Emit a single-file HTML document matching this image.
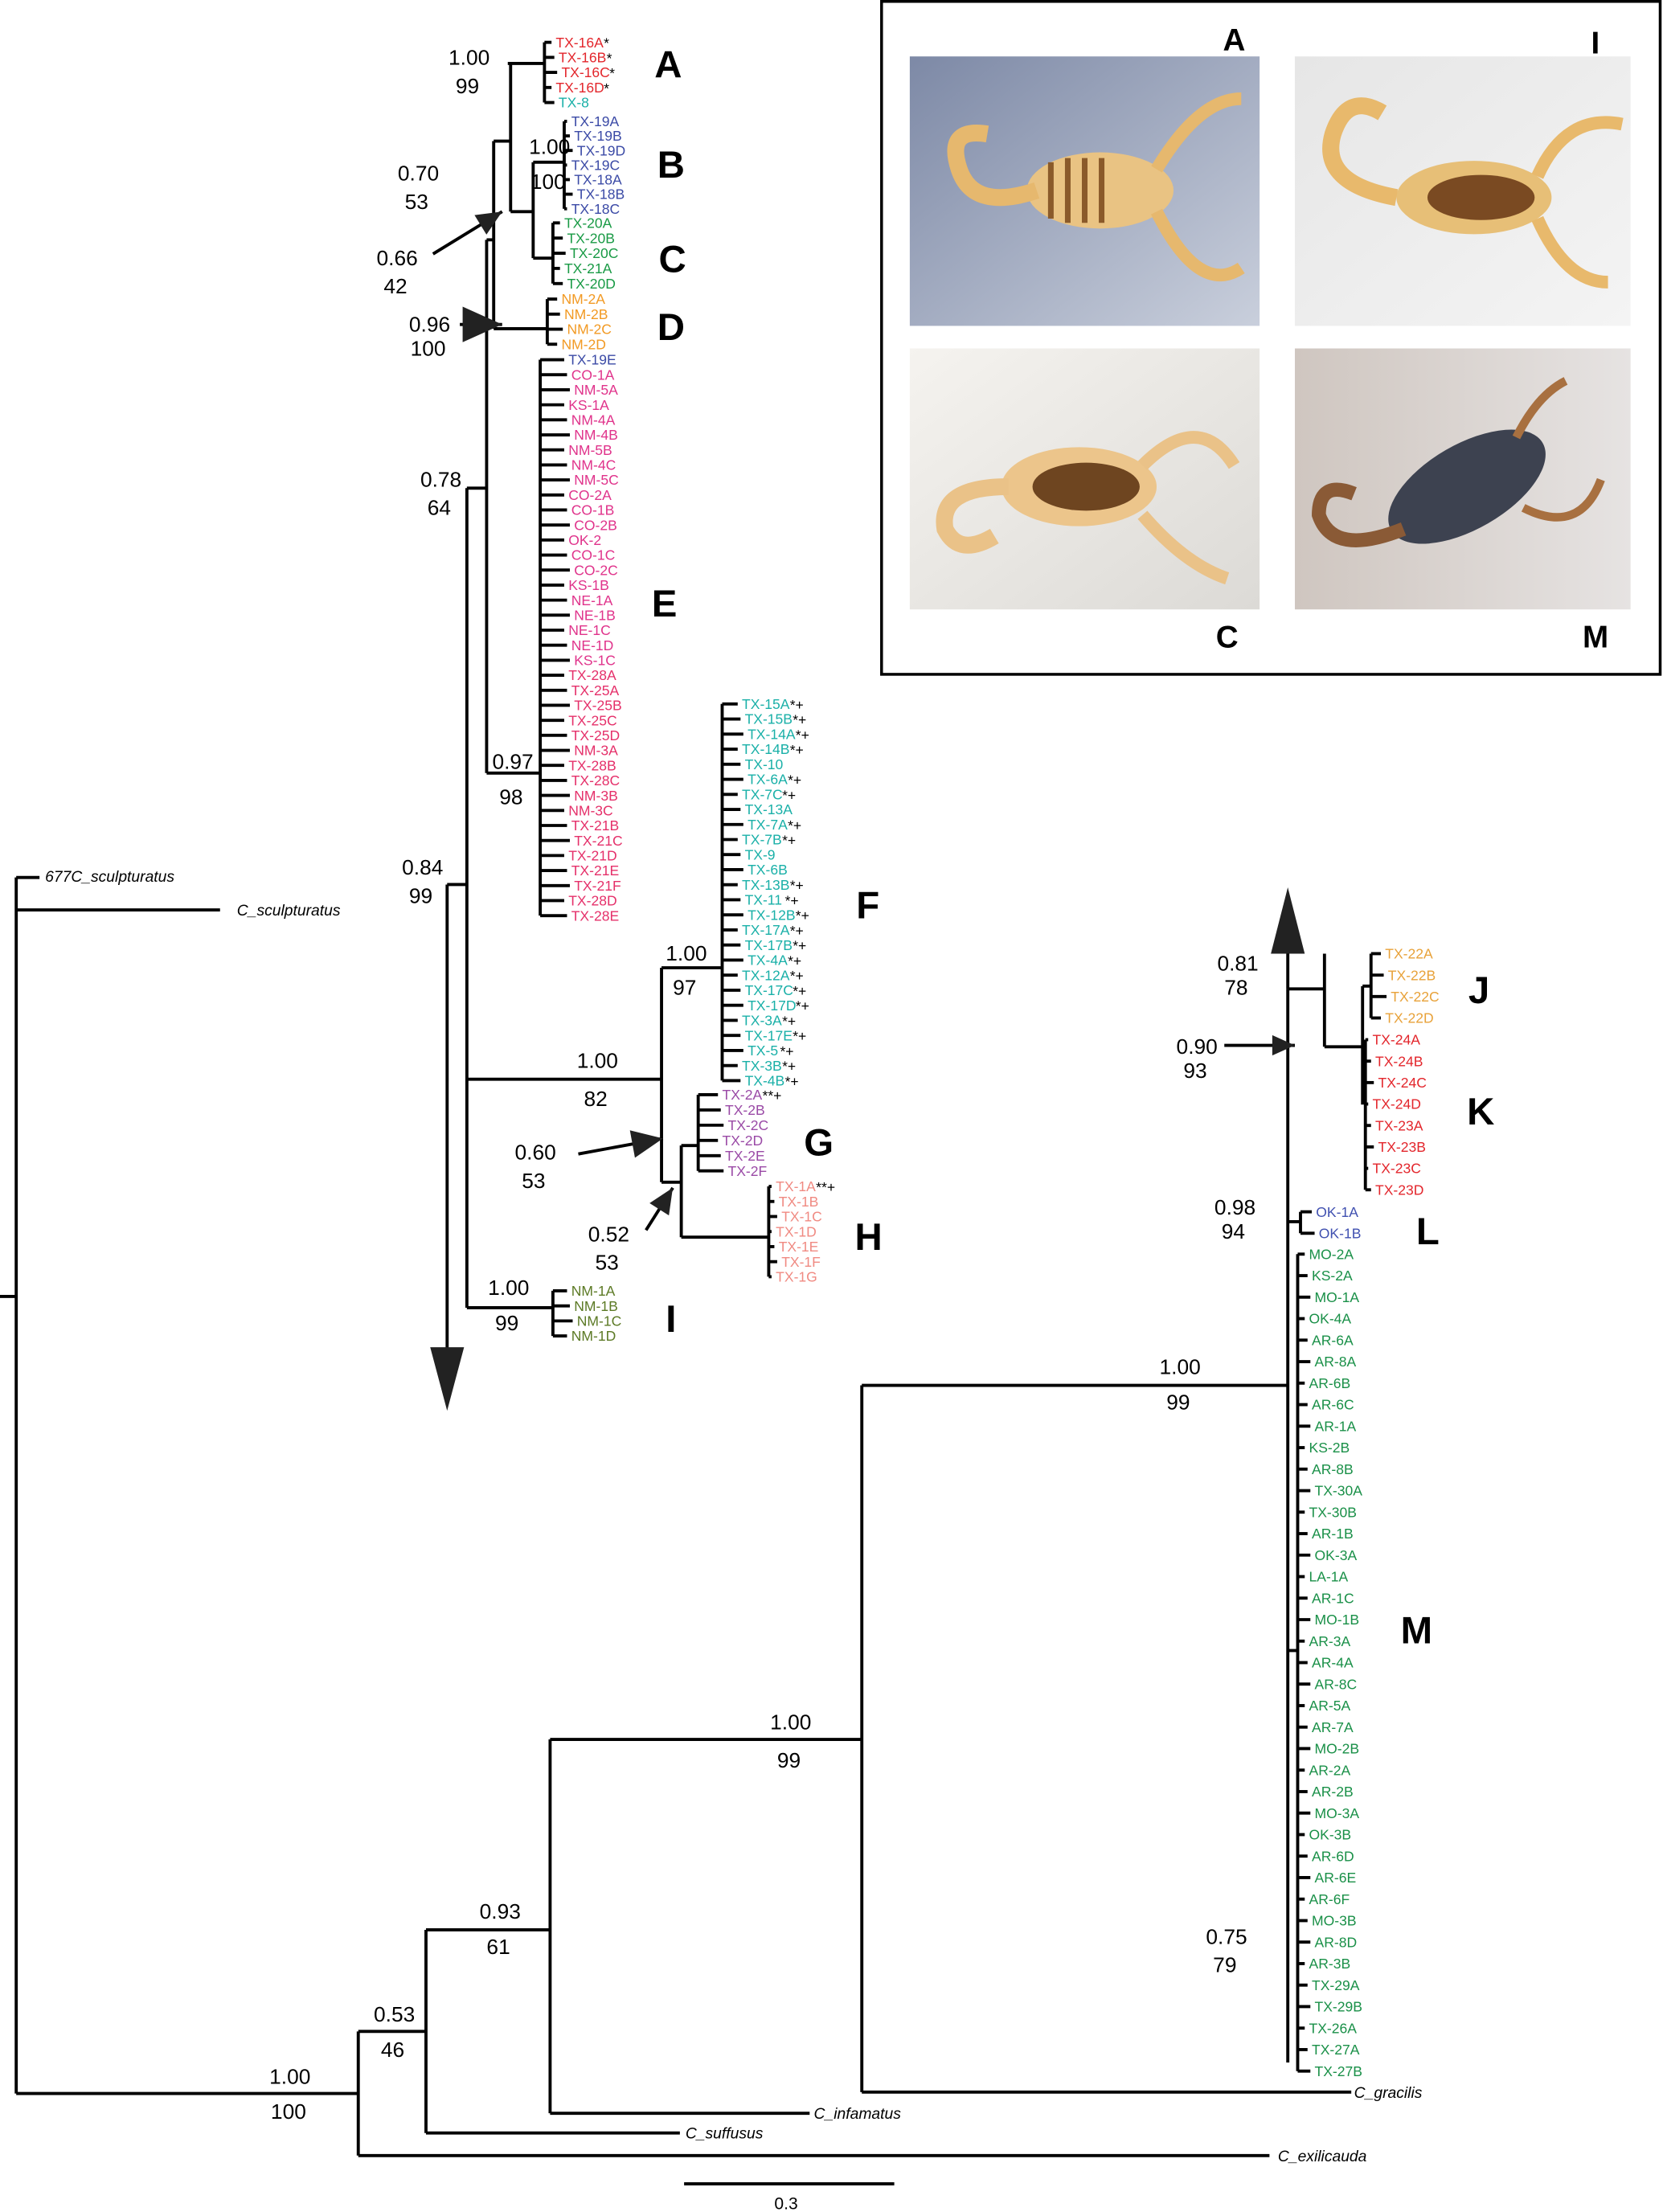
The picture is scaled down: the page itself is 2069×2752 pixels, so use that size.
<!DOCTYPE html>
<html><head><meta charset="utf-8">
<style>
html,body{margin:0;padding:0;background:#fff;}
svg{display:block;}
text{font-family:"Liberation Sans",sans-serif;}
</style></head>
<body>
<svg id="tree" width="2069" height="2752" viewBox="0 0 1179 1568" preserveAspectRatio="none" xmlns="http://www.w3.org/2000/svg">
  <g id="photos">
    <rect x="625" y="1" width="552" height="477" fill="#fff" stroke="#000" stroke-width="2"/>
    <defs>
      <linearGradient id="gA" x1="0" y1="0" x2="1" y2="1"><stop offset="0" stop-color="#7d89a6"/><stop offset="1" stop-color="#c9cfdc"/></linearGradient>
      <linearGradient id="gI" x1="0" y1="0" x2="1" y2="1"><stop offset="0" stop-color="#e6e6e6"/><stop offset="1" stop-color="#f4f4f4"/></linearGradient>
      <linearGradient id="gC" x1="0" y1="0" x2="1" y2="1"><stop offset="0" stop-color="#f5f3ef"/><stop offset="1" stop-color="#dcdad6"/></linearGradient>
      <linearGradient id="gM" x1="0" y1="0" x2="1" y2="0"><stop offset="0" stop-color="#cfc6c0"/><stop offset="1" stop-color="#e6e3e2"/></linearGradient>
    </defs>
    <g>
      <rect x="645" y="40" width="248" height="191" fill="url(#gA)"/>
      <ellipse cx="780" cy="135" rx="52" ry="27" fill="#e9c383"/>
      <g stroke="#8a5a2a" stroke-width="4"><line x1="745" y1="115" x2="745" y2="155"/><line x1="757" y1="112" x2="757" y2="158"/><line x1="769" y1="112" x2="769" y2="158"/><line x1="781" y1="112" x2="781" y2="158"/></g>
      <path d="M735 135 Q690 150 680 120 Q670 90 700 95" stroke="#e6b86e" stroke-width="12" fill="none"/>
      <path d="M820 120 Q850 70 880 70 M820 150 Q850 210 880 190" stroke="#e6b86e" stroke-width="9" fill="none"/>
    </g>
    <g>
      <rect x="918" y="40" width="238" height="191" fill="url(#gI)"/>
      <ellipse cx="1045" cy="140" rx="55" ry="26" fill="#e7bf77"/>
      <ellipse cx="1050" cy="140" rx="38" ry="16" fill="#7a4a22"/>
      <path d="M990 140 Q935 130 945 95 Q955 65 980 80" stroke="#e8b96c" stroke-width="12" fill="none"/>
      <path d="M1090 125 Q1110 80 1150 88 M1090 155 Q1110 200 1140 200" stroke="#e8b96c" stroke-width="9" fill="none"/>
    </g>
    <g>
      <rect x="645" y="247" width="248" height="185" fill="url(#gC)"/>
      <ellipse cx="765" cy="345" rx="55" ry="28" fill="#ecc58b"/>
      <ellipse cx="770" cy="345" rx="38" ry="17" fill="#6e4520"/>
      <path d="M715 345 Q665 345 670 375 Q680 395 705 380" stroke="#eac288" stroke-width="12" fill="none"/>
      <path d="M810 330 Q850 290 875 330 M810 365 Q840 400 870 410" stroke="#eac288" stroke-width="9" fill="none"/>
    </g>
    <g>
      <rect x="918" y="247" width="238" height="185" fill="url(#gM)"/>
      <ellipse cx="1040" cy="345" rx="62" ry="30" fill="#3d4250" transform="rotate(-30 1040 345)"/>
      <path d="M995 375 Q945 395 935 365 Q935 340 960 350" stroke="#8a5a36" stroke-width="10" fill="none"/>
      <path d="M1075 310 Q1090 280 1110 270 M1080 360 Q1120 380 1135 340" stroke="#a87040" stroke-width="6" fill="none"/>
    </g>
    <g font-weight="bold" font-size="22" fill="#000">
      <text x="867" y="36">A</text>
      <text x="1128" y="38">I</text>
      <text x="862" y="459">C</text>
      <text x="1122" y="459">M</text>
    </g>
  </g>
  <g id="branches" stroke="#000" stroke-width="2.2" fill="none"></g>
  <g id="tips"></g>
  <g id="support"></g>
  <g id="cladeLetters"></g>
  <g id="marks"></g>
</svg>
<script>
// ---- data ----
const cladeA = ["TX-16A","TX-16B","TX-16C","TX-16D","TX-8"];
const cladeASuf = ["*","*","*","*",""];
const cladeB = ["TX-19A","TX-19B","TX-19D","TX-19C","TX-18A","TX-18B","TX-18C"];
const cladeC = ["TX-20A","TX-20B","TX-20C","TX-21A","TX-20D"];
const cladeD = ["NM-2A","NM-2B","NM-2C","NM-2D"];
const cladeE = ["TX-19E","CO-1A","NM-5A","KS-1A","NM-4A","NM-4B","NM-5B","NM-4C","NM-5C","CO-2A","CO-1B","CO-2B","OK-2","CO-1C","CO-2C","KS-1B","NE-1A","NE-1B","NE-1C","NE-1D","KS-1C","TX-28A","TX-25A","TX-25B","TX-25C","TX-25D","NM-3A","TX-28B","TX-28C","NM-3B","NM-3C","TX-21B","TX-21C","TX-21D","TX-21E","TX-21F","TX-28D","TX-28E"];
const cladeF = ["TX-15A","TX-15B","TX-14A","TX-14B","TX-10","TX-6A","TX-7C","TX-13A","TX-7A","TX-7B","TX-9","TX-6B","TX-13B","TX-11","TX-12B","TX-17A","TX-17B","TX-4A","TX-12A","TX-17C","TX-17D","TX-3A","TX-17E","TX-5","TX-3B","TX-4B"];
const cladeFSuf = ["*+","*+","*+","*+","","*+","*+","","*+","*+","","","*+","*+","*+","*+","*+","*+","*+","*+","*+","*+","*+","*+","*+","*+"];
const cladeG = ["TX-2A","TX-2B","TX-2C","TX-2D","TX-2E","TX-2F"];
const cladeH = ["TX-1A","TX-1B","TX-1C","TX-1D","TX-1E","TX-1F","TX-1G"];
const cladeI = ["NM-1A","NM-1B","NM-1C","NM-1D"];
const cladeJ = ["TX-22A","TX-22B","TX-22C","TX-22D"];
const cladeK = ["TX-24A","TX-24B","TX-24C","TX-24D","TX-23A","TX-23B","TX-23C","TX-23D"];
const cladeL = ["OK-1A","OK-1B"];
const cladeM = ["MO-2A","KS-2A","MO-1A","OK-4A","AR-6A","AR-8A","AR-6B","AR-6C","AR-1A","KS-2B","AR-8B","TX-30A","TX-30B","AR-1B","OK-3A","LA-1A","AR-1C","MO-1B","AR-3A","AR-4A","AR-8C","AR-5A","AR-7A","MO-2B","AR-2A","AR-2B","MO-3A","OK-3B","AR-6D","AR-6E","AR-6F","MO-3B","AR-8D","AR-3B","TX-29A","TX-29B","TX-26A","TX-27A","TX-27B"];
const supportPost = ["1.00","1.00","0.70","0.66","0.96","0.78","0.97","0.84","1.00","1.00","0.60","0.52","1.00","0.81","0.90","0.98","1.00","0.75","1.00","0.93","0.53","1.00"];
const supportBoot = ["99","100","53","42","100","64","98","99","82","97","53","53","99","78","93","94","99","79","99","61","46","100"];
const outgroups = ["677C_sculpturatus","C_sculpturatus","C_gracilis","C_infamatus","C_suffusus","C_exilicauda"];

// ---- helpers ----
const NS="http://www.w3.org/2000/svg";
const B=document.getElementById('branches'), T=document.getElementById('tips'), S=document.getElementById('support'), L=document.getElementById('cladeLetters'), MK=document.getElementById('marks');
function line(x1,y1,x2,y2,name){
  const l=document.createElementNS(NS,'line');
  l.setAttribute('x1',x1);l.setAttribute('y1',y1);l.setAttribute('x2',x2);l.setAttribute('y2',y2);
  
  
  B.appendChild(l);return l;
}
function txt(parent,x,y,s,size,fill,name,extra){
  const t=document.createElementNS(NS,'text');
  t.setAttribute('x',x);t.setAttribute('y',y);t.setAttribute('font-size',size);t.setAttribute('fill',fill);
  if(extra){for(const k in extra)t.setAttribute(k,extra[k]);}
  t.textContent=s;
  
  
  parent.appendChild(t);return t;
}
function clade(names,y0,step,nodeX,lx,color,suf,prefix,colors){
  const ys=names.map((n,i)=>y0+i*step);
  line(nodeX,ys[0],nodeX,ys[ys.length-1],prefix+'-node');
  names.forEach((n,i)=>{
    const x=lx+((i*7)%3)*2;
    line(nodeX,ys[i],x-3,ys[i],prefix+'-tip-branch');
    const c=colors?colors[i]:color;
    const t=txt(T,x,ys[i]+3.5,n,10,c,'tip-label');
    if(suf&&suf[i]){const w=n.length*5.5;txt(T,x+w+1,ys[i]+4,suf[i],10,'#000','tip-marker');}
  });
  return ys;
}
const sp=10.67;
// ---- upper tree ----
clade(cladeA,30,sp,386,394,'#e3262c',cladeASuf,'clade-a',["#e3262c","#e3262c","#e3262c","#e3262c","#1ab0a8"]);
clade(cladeB,86,10.33,400,405,'#3b4aa6',null,'clade-b');
clade(cladeC,158,10.75,392,400,'#199a45',null,'clade-c');
clade(cladeD,212,10.67,388,398,'#f29a24',null,'clade-d');
clade(cladeE,255,10.65,383,403,'#e0338b',null,'clade-e',cladeE.map((n,i)=>i===0?'#3b4aa6':(i>=21?'#e5306a':'#e0338b')));
clade(cladeF,499,10.68,512,526,'#1ab0a8',cladeFSuf,'clade-f');
clade(cladeG,776,10.8,495,512,'#9a4aa6',["**+","","","","",""],'clade-g');
clade(cladeH,841,10.67,545,550,'#f08a82',["**+","","","","","",""],'clade-h');
clade(cladeI,915,10.67,392,405,'#5c7a25',null,'clade-i');
line(360,45,386,45,'stem-a');
line(378,115,400,115,'stem-b'); line(378,183,392,183,'stem-c');
line(378,115,378,183,'node-bc'); line(362,150,378,150,'stem-bc');
line(362,45,362,150,'node-abc'); line(350,100,362,100,'stem-abc');
line(350,100,350,233,'node-abcd'); line(350,233,388,233,'stem-d');
line(345,170,350,170,'stem-abcd'); line(345,170,345,548,'node-abcde'); line(345,548,383,548,'stem-e');
line(331,346,345,346,'stem-abcde');
line(331,346,331,927,'node-078');
line(317,627,331,627,'stem-084');
line(317,627,317,960,'collapsed-arrow-line');
line(331,765,469,765,'stem-fgh'); line(469,686,469,838,'node-fgh'); line(469,686,512,686,'stem-f');
line(469,838,483,838,'stem-gh'); line(483,812,483,877,'node-gh'); line(483,812,495,812,'stem-g'); line(483,877,545,877,'stem-h');
line(331,927,392,927,'stem-i');
// ---- lower tree ----
clade(cladeJ,676,15.2,972,982,'#e8a23a',null,'clade-j');
clade(cladeK,737,15.2,968,973,'#e3262c',null,'clade-k');
clade(cladeL,859,15.2,922,933,'#4050b0',null,'clade-l');
clade(cladeM,889,15.24,920,928,'#1a9048',null,'clade-m');
line(966,699,972,699,'stem-j'); line(966,699,966,783,'node-jk');
line(939,742,966,742,'stem-jk'); line(939,676,939,742,'node-081');
line(913,701,939,701,'stem-081'); line(913,701,913,1462,'node-098');
line(913,866,922,866,'stem-l'); line(913,1170,920,1170,'stem-m');
line(611,982,913,982,'stem-ingroup');
line(611,982,611,1483,'node-gracilis'); line(611,1483,958,1483,'branch-gracilis');
line(390,1233,611,1233,'stem-100-99'); line(390,1233,390,1498,'node-infamatus'); line(390,1498,574,1498,'branch-infamatus');
line(302,1368,390,1368,'stem-093'); line(302,1368,302,1512,'node-suffusus'); line(302,1512,482,1512,'branch-suffusus');
line(254,1440,302,1440,'stem-053'); line(254,1440,254,1528,'node-exilicauda'); line(254,1528,900,1528,'branch-exilicauda');
line(11.5,1484,254,1484,'stem-root-100');
line(11.5,622,11.5,1484,'root-node'); line(0,919,11.5,919,'root-stub');
line(11.5,622,28,622,'branch-677c'); line(11.5,645,156,645,'branch-c-sculpturatus');
line(485,1548,634,1548,'scale-bar');
const ogPos=[[32,625],[168,649],[960,1487],[577,1502],[486,1516],[906,1532]];
outgroups.forEach((n,i)=>txt(T,ogPos[i][0],ogPos[i][1],n,11,'#000','outgroup-label',{'font-style':'italic'}));
txt(T,549,1566,'0.3',12,'#000','scale-label');
const supPos=[[318,46],[375,109],[282,128],[267,188],[290,235],[298,345],[349,545],[285,620],[409,757],[472,681],[365,822],[417,880],[346,918],[863,688],[834,747],[861,861],[822,974],[855,1378],[546,1226],[340,1360],[265,1433],[191,1477]];
const supGap=[20,25,20,20,17,20,25,20,27,24,20,20,25,17,17,17,25,20,27,25,25,25];
supportPost.forEach((v,i)=>{
  txt(S,supPos[i][0],supPos[i][1],v,15,'#000','support-posterior');
  txt(S,supPos[i][0]+(v.length>3?5:0)+(supportBoot[i].length>2?-4:0),supPos[i][1]+supGap[i],supportBoot[i],15,'#000','support-bootstrap');
});
const letters=["A","B","C","D","E","F","G","H","I","J","K","L","M"];
const letPos=[[464,55],[466,126],[467,193],[466,241],[462,437],[607,651],[570,819],[606,886],[472,944],[1041,711],[1040,797],[1004,882],[993,1165]];
letters.forEach((c,i)=>txt(L,letPos[i][0],letPos[i][1],c,27,'#000','clade-letter-'+c.toLowerCase(),{'font-weight':'bold'}));
function arrow(x1,y1,x2,y2,name,size){
  line(x1,y1,x2,y2,name+'-shaft');
  const a=Math.atan2(y2-y1,x2-x1),s=size||14,w=s*0.45;
  const p=document.createElementNS(NS,'polygon');
  const bx=x2-s*Math.cos(a),by=y2-s*Math.sin(a);
  p.setAttribute('points',`${x2},${y2} ${bx+w*Math.sin(a)},${by-w*Math.cos(a)} ${bx-w*Math.sin(a)},${by+w*Math.cos(a)}`);
  p.setAttribute('fill','#222');
  
  
  MK.appendChild(p);
}
arrow(307,180,356,150,'arrow-066',18);
arrow(326,230,356,230,'arrow-096',28);
arrow(410,818,470,807,'arrow-060',22);
arrow(458,872,477,842,'arrow-052',18);
arrow(868,741,918,741,'arrow-090',16);
line(913,701,913,676,'collapsed-arrow-up-line');
const up=document.createElementNS(NS,'polygon');
up.setAttribute('points','913,629 901,676 925,676');
up.setAttribute('fill','#222');


MK.appendChild(up);
const dn=document.createElementNS(NS,'polygon');
dn.setAttribute('points','305,955 329,955 317,1000');
dn.setAttribute('fill','#222');


MK.appendChild(dn);
</script>
</body></html>
